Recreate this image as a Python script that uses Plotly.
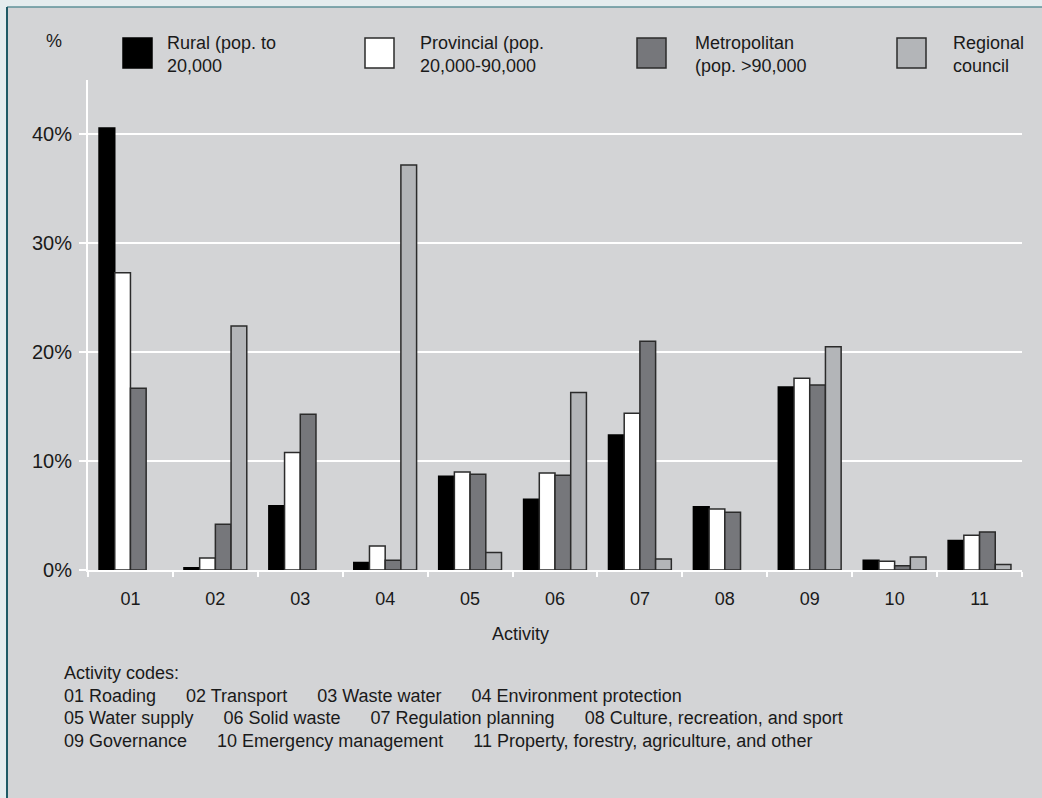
import plotly.graph_objects as go

# ---- data ----
categories = ["01", "02", "03", "04", "05", "06", "07", "08", "09", "10", "11"]
rural = [40.6, 0.2, 5.9, 0.7, 8.6, 6.5, 12.4, 5.8, 16.8, 0.9, 2.7]
provincial = [27.3, 1.1, 10.8, 2.2, 9.0, 8.9, 14.4, 5.6, 17.6, 0.8, 3.2]
metropolitan = [16.7, 4.2, 14.3, 0.9, 8.8, 8.7, 21.0, 5.3, 17.0, 0.4, 3.5]
regional = [None, 22.4, None, 37.2, 1.6, 16.3, 1.0, None, 20.5, 1.2, 0.5]

series_names = [
    "Rural (pop. to<br>20,000",
    "Provincial (pop.<br>20,000-90,000",
    "Metropolitan<br>(pop. >90,000",
    "Regional<br>council",
]
y_ticks = [0, 10, 20, 30, 40]
y_tick_text = [f"{v}%" for v in y_ticks]
note_lines = [
    "Activity codes:",
    "01 Roading      02 Transport      03 Waste water      04 Environment protection",
    "05 Water supply      06 Solid waste      07 Regulation planning      08 Culture, recreation, and sport",
    "09 Governance      10 Emergency management      11 Property, forestry, agriculture, and other",
]

# ---- styling ----
W, H = 1042, 798
L, R, T, B = 88, 20, 80, 228
FONT = "Liberation Sans, Arial, sans-serif"
TXT = "#1a1a1a"
colors = ["#000000", "#ffffff", "#76777b", "#b3b5b8"]
outline = "#2b2b2b"
panel = "#d3d4d6"

pw = W - L - R
ph = H - T - B


def px(x):
    return (x - L) / pw


def py(y):
    return (H - B - y) / ph


fig = go.Figure()
for name, vals, col in zip(series_names, [rural, provincial, metropolitan, regional], colors):
    fig.add_trace(go.Bar(
        x=categories, y=vals, name=name.replace("<br>", " "),
        marker=dict(color=col, line=dict(color=outline if col != "#000000" else "#000000", width=1.5)),
        showlegend=False,
    ))

shapes = []
annotations = []

# frame: light strips on left and top with teal border
shapes.append(dict(type="rect", xref="paper", yref="paper", x0=px(-5), x1=px(7), y0=py(-5), y1=py(H + 5),
                   fillcolor="#e4ecee", line=dict(width=0), layer="below"))
shapes.append(dict(type="rect", xref="paper", yref="paper", x0=px(-5), x1=px(W + 5), y0=py(7), y1=py(-5),
                   fillcolor="#e4ecee", line=dict(width=0), layer="below"))
shapes.append(dict(type="line", xref="paper", yref="paper", x0=px(7), x1=px(W + 5), y0=py(7), y1=py(7),
                   line=dict(color="#5f9299", width=1.5)))
shapes.append(dict(type="line", xref="paper", yref="paper", x0=px(7), x1=px(7), y0=py(7), y1=py(H + 5),
                   line=dict(color="#1f5a66", width=2)))

# custom legend
leg_rect_x = [123, 365, 637, 897]
leg_text_x = [165, 418, 693, 951]
for i, name in enumerate(series_names):
    shapes.append(dict(type="rect", xref="paper", yref="paper",
                       x0=px(leg_rect_x[i]), x1=px(leg_rect_x[i] + 29),
                       y0=py(68), y1=py(38),
                       fillcolor=colors[i],
                       line=dict(color=outline if i else "#000000", width=1.5)))
    annotations.append(dict(xref="paper", yref="paper", x=px(leg_text_x[i]), y=py(54),
                            xanchor="left", yanchor="middle", align="left", showarrow=False,
                            text=name, font=dict(family=FONT, size=18, color=TXT)))

# % label
annotations.append(dict(xref="paper", yref="paper", x=px(54), y=py(41), xanchor="center", yanchor="middle",
                        showarrow=False, text="%", font=dict(family=FONT, size=18, color=TXT)))
# axis title
annotations.append(dict(xref="paper", yref="paper", x=px(520), y=py(634), xanchor="center", yanchor="middle",
                        showarrow=False, text="Activity", font=dict(family=FONT, size=18, color=TXT)))
# notes
for i, line in enumerate(note_lines):
    annotations.append(dict(xref="paper", yref="paper", x=px(62), y=py(673 + 22.5 * i),
                            xanchor="left", yanchor="middle", align="left", showarrow=False,
                            text=line.replace("  ", "\u00a0\u00a0"),
                            font=dict(family=FONT, size=18, color=TXT)))

fig.update_layout(
    width=W, height=H,
    margin=dict(l=L, r=R, t=T, b=B, pad=0),
    paper_bgcolor=panel, plot_bgcolor=panel,
    barmode="group", bargap=0.26, bargroupgap=0,
    font=dict(family=FONT, size=18, color=TXT),
    shapes=shapes, annotations=annotations,
    hovermode=False,
    xaxis=dict(
        type="category", showline=True, linecolor="white", linewidth=2,
        ticks="outside", tickson="boundaries", tickcolor="white", ticklen=5, tickwidth=1.5,
        showgrid=False, tickfont=dict(family=FONT, size=18, color=TXT),
        ticklabelstandoff=11,
    ),
    yaxis=dict(
        range=[0, 45], tickvals=y_ticks, ticktext=y_tick_text,
        showline=True, linecolor="white", linewidth=2,
        ticks="outside", tickcolor="white", ticklen=7, tickwidth=1.5,
        showgrid=True, gridcolor="white", gridwidth=2, zeroline=False,
        tickfont=dict(family=FONT, size=20, color=TXT),
        ticklabelstandoff=3,
    ),
)

fig.write_html(
    "out.html",
    config={"displayModeBar": False},
    post_script="document.body.style.margin='0px';document.body.style.overflow='hidden';",
)
